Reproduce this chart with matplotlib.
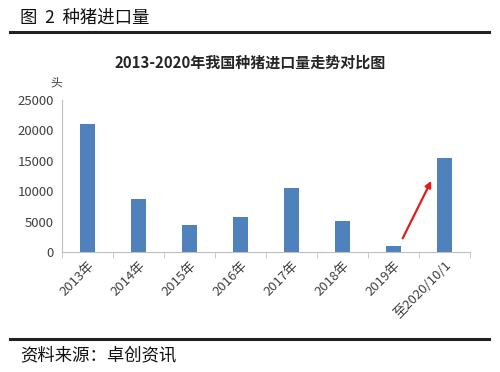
import numpy as np
import matplotlib
matplotlib.use("Agg")
from matplotlib import pyplot as plt

plt.rcParams['font.family'] = ['Noto Sans CJK SC', 'DejaVu Sans']

# Data
categories = ["2013年", "2014年", "2015年", "2016年", "2017年", "2018年", "2019年", "至2020/10/1"]
imports = [21000, 8650, 4500, 5800, 10600, 5150, 1000, 15450]
yticks = [0, 5000, 10000, 15000, 20000, 25000]

# arrow from 2019 toward 2020 bar (category position, value)
arrow_start = (6.18, 2250)
arrow_end = (6.74, 11700)

BARCOLOR = '#4f81bd'
TEXTCOLOR = '#404040'
AXISCOLOR = '#bfbfbf'

fig = plt.figure(figsize=(5.0, 3.72), dpi=100)
fig.patch.set_facecolor('white')

# header / footer
fig.text(0.04, 0.952, "图  2  种猪进口量", fontsize=12.5, color='#111111', va='center', ha='left')
fig.add_artist(plt.Line2D([0.02, 0.978], [0.914, 0.914], color='#222222', lw=2.2))
fig.add_artist(plt.Line2D([0.02, 0.978], [0.089, 0.089], color='#222222', lw=2.2))
fig.text(0.04, 0.046, "资料来源：卓创资讯", fontsize=12.5, color='#111111', va='center', ha='left')

ax = fig.add_axes([0.124, 0.3226, 0.816, 0.4085])
x = np.arange(len(categories))
ax.bar(x, imports, width=0.31, color=BARCOLOR)

ax.set_xlim(-0.5, len(categories) - 0.5)
ax.set_ylim(0, 25000)
ax.set_yticks(yticks)
ax.set_yticklabels([str(v) for v in yticks], fontsize=9.5, color=TEXTCOLOR)
ax.set_xticks(x)
ax.set_xticklabels(categories, rotation=45, ha='right', rotation_mode='anchor',
                   fontsize=9.5, color=TEXTCOLOR)
ax.set_xticks(np.arange(-0.5, len(categories), 1), minor=True)
ax.tick_params(axis='x', which='major', length=0, pad=5)
ax.tick_params(axis='x', which='minor', length=4, color=AXISCOLOR, direction='out')
ax.tick_params(axis='y', length=0, pad=6)

for side in ['top', 'right']:
    ax.spines[side].set_visible(False)
ax.spines['left'].set_color(AXISCOLOR)
ax.spines['bottom'].set_color(AXISCOLOR)

ax.annotate("", xy=arrow_end, xytext=arrow_start,
            arrowprops=dict(arrowstyle='-|>', color='#e01e1e', lw=1.6,
                            mutation_scale=9, shrinkA=0, shrinkB=0))

fig.text(0.5, 0.832, "2013-2020年我国种猪进口量走势对比图", fontsize=10.8,
         fontweight='bold', color='#262626', ha='center', va='center')
fig.text(0.113, 0.777, "头", fontsize=8.5, color=TEXTCOLOR, ha='center', va='center')

fig.savefig("out.png", dpi=100, facecolor='white')
